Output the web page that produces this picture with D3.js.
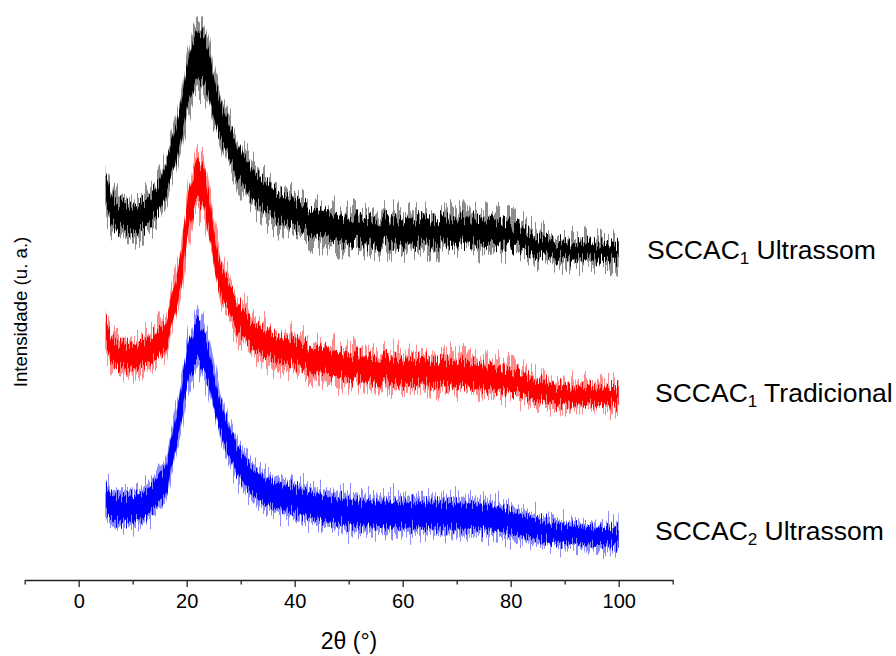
<!DOCTYPE html>
<html>
<head>
<meta charset="utf-8">
<script src="https://cdn.jsdelivr.net/npm/d3@7"></script>
<style>
  html, body { margin: 0; padding: 0; background: #fff; }
  svg { display: block; }
  text { font-family: "Liberation Sans", Arial, sans-serif; fill: #000; }
</style>
</head>
<body>
<svg id="chart" width="896" height="656"></svg>
<script>
// 2θ sample positions (degrees)
const theta = [5, 6, 7, 8, 10, 12, 13, 14, 15, 16, 17, 18, 19, 20, 21, 22, 23, 24, 25, 26, 27, 28, 29, 30, 32, 34, 37, 40, 43, 47, 51, 55, 60, 65, 70, 75, 78, 81, 84, 87, 90, 95, 100];

// Intensities (a.u., stacked with offsets as in the figure) — mean of the noisy trace
const ultrassom1 = [78, 75, 73.2, 72.6, 72.4, 72.8, 73.8, 75.2, 76.8, 79.8, 83.2, 87.2, 92, 98, 102.4, 104.6, 104.4, 101.6, 97, 93, 89.8, 87.4, 85, 82.8, 79.6, 77, 74.6, 73, 71.8, 70.6, 70, 69.8, 69.8, 69.8, 69.8, 69.6, 69.4, 68.6, 67.4, 66.4, 66, 65.6, 65.2];
const tradicional1 = [49.4, 46.8, 45.2, 44.8, 44.8, 45.2, 45.8, 46.6, 47.6, 48.6, 52.4, 57, 62.4, 71, 76.6, 79.2, 78.8, 74, 67.6, 61.4, 58, 56, 53.8, 52, 49.4, 47.6, 46.2, 45.2, 44.2, 43.4, 42.6, 42.2, 41.8, 41.6, 41.2, 40.6, 40, 39.4, 38.4, 37.4, 37, 36.8, 36.6];
const ultrassom2 = [16, 14.8, 14.2, 14.2, 14.4, 15, 15.8, 17, 18.6, 19.6, 24.4, 29.6, 35, 42, 45.4, 47.4, 46, 43, 38.4, 33.6, 30, 27.4, 25, 23, 20, 18.2, 16.8, 16, 15, 14, 13.4, 13.2, 13, 13, 12.8, 12.6, 12.2, 11.2, 10.4, 9.6, 9.2, 8.8, 8.6];

// Half-spread of the noise around each mean (a.u.)
const noise1 = [5, 5, 4.6, 4.6, 4.6, 4.6, 4.6, 4.8, 5, 5.4, 5.6, 6, 6.6, 7.4, 8, 8.4, 8.4, 7.8, 7, 6.4, 6, 5.8, 5.6, 5.4, 5.2, 5, 4.8, 4.6, 4.5, 4.4, 4.4, 4.4, 4.4, 4.4, 4.4, 4.4, 4.2, 3.8, 3.4, 3, 2.8, 2.8, 2.8];
const noise2 = [4.6, 4.4, 4.2, 4.2, 4.2, 4.2, 4.2, 4.4, 4.6, 4.8, 5, 5.4, 5.8, 6.2, 6.6, 6.8, 6.8, 6.4, 5.8, 5.4, 5.2, 5, 5, 4.8, 4.6, 4.6, 4.4, 4.4, 4.4, 4.4, 4.4, 4.4, 4.4, 4.4, 4.4, 4.2, 4, 3.8, 3.6, 3.4, 3.2, 3, 3];
const noise3 = [4.4, 4.4, 4.4, 4.4, 4.4, 4.4, 4.4, 4.6, 4.8, 5, 5.2, 5.4, 5.8, 6.2, 6.6, 6.8, 6.8, 6.4, 5.8, 5.4, 5.2, 5, 5, 4.8, 4.6, 4.6, 4.4, 4.4, 4.4, 4.4, 4.4, 4.4, 4.4, 4.4, 4.4, 4.2, 4, 3.8, 3.6, 3.4, 3.2, 3, 3];

const seriesNames = ["SCCAC", "SCCAC", "SCCAC"];
const seriesSubs = ["1", "1", "2"];
const seriesSuffix = [" Ultrassom", " Tradicional", " Ultrassom"];
const seriesColors = ["#000000", "#ff0000", "#0000ff"];

const xTicks = [0, 20, 40, 60, 80, 100];
const xMinorTicks = [-10, 10, 30, 50, 70, 90, 110];

const svg = d3.select("#chart");

// Column-wise jitter so the bands read like a dense, noisy diffractogram trace
const defs = svg.append("defs");
function addJitter(id, seed, scale, freq) {
  const f = defs.append("filter").attr("id", id)
    .attr("x", "-2%").attr("y", "-30%").attr("width", "104%").attr("height", "160%");
  f.append("feTurbulence").attr("type", "fractalNoise")
    .attr("baseFrequency", freq + " 0.002").attr("numOctaves", 1)
    .attr("seed", seed).attr("result", "noise");
  f.append("feColorMatrix").attr("in", "noise").attr("type", "matrix")
    .attr("values", "0 0 0 0 0.5  0 2.2 0 0 -0.6  0 0 0 0 0  0 0 0 0 1")
    .attr("result", "disp");
  f.append("feDisplacementMap").attr("in", "SourceGraphic").attr("in2", "disp")
    .attr("scale", scale).attr("xChannelSelector", "R").attr("yChannelSelector", "G");
}
addJitter("jitA", 3, 26, 0.6);
addJitter("jitB", 11, 16, 0.8);

const x = d3.scaleLinear().domain([-10, 110]).range([24.7, 672.7]);
const y = d3.scaleLinear().domain([0, 116]).range([580, 0]);

const series = [
  { vals: ultrassom1, noise: noise1, color: seriesColors[0], labelX: 647, labelY: 259 },
  { vals: tradicional1, noise: noise2, color: seriesColors[1], labelX: 655, labelY: 402 },
  { vals: ultrassom2, noise: noise3, color: seriesColors[2], labelX: 655, labelY: 540 }
];

series.forEach((s, si) => {
  const pts = theta.map((t, i) => ({ t, v: s.vals[i], n: s.noise[i] }));
  const band = k => d3.area()
    .x(d => x(d.t))
    .y0(d => y(d.v - d.n * k))
    .y1(d => y(d.v + d.n * k))
    .curve(d3.curveMonotoneX);
  svg.append("path").datum(pts).attr("d", band(0.85))
    .attr("fill", s.color).attr("fill-opacity", 0.45)
    .attr("filter", "url(#jitA)");
  svg.append("path").datum(pts).attr("d", band(0.58))
    .attr("fill", s.color)
    .attr("filter", "url(#jitB)");

  const lab = svg.append("text")
    .attr("x", s.labelX).attr("y", s.labelY)
    .style("font-size", "26.5px");
  lab.append("tspan").text(seriesNames[si]);
  lab.append("tspan").text(seriesSubs[si]).style("font-size", "17px").attr("dy", 5);
  lab.append("tspan").text(seriesSuffix[si]).attr("dy", -5);
});

// X axis
const axisG = svg.append("g").attr("transform", "translate(0,580)");
axisG.call(d3.axisBottom(x).tickValues(xTicks).tickSize(7).tickSizeOuter(0).tickPadding(7).tickFormat(d3.format("d")));
axisG.append("g").call(d3.axisBottom(x).tickValues(xMinorTicks).tickSize(4.5).tickFormat(""))
  .select(".domain").remove();
axisG.selectAll("path, line").attr("stroke", "#222").attr("stroke-width", 1.3);
axisG.selectAll(".tick text")
  .style("font-size", "20px")
  .style("font-family", "'Liberation Sans', Arial, sans-serif")
  .attr("fill", "#000");

// Axis titles
svg.append("text")
  .attr("x", 349).attr("y", 649)
  .attr("text-anchor", "middle")
  .style("font-size", "23px")
  .text("2θ (°)");

svg.append("text")
  .attr("transform", "translate(27,312) rotate(-90)")
  .attr("text-anchor", "middle")
  .style("font-size", "18.7px")
  .text("Intensidade (u. a.)");
</script>
</body>
</html>
